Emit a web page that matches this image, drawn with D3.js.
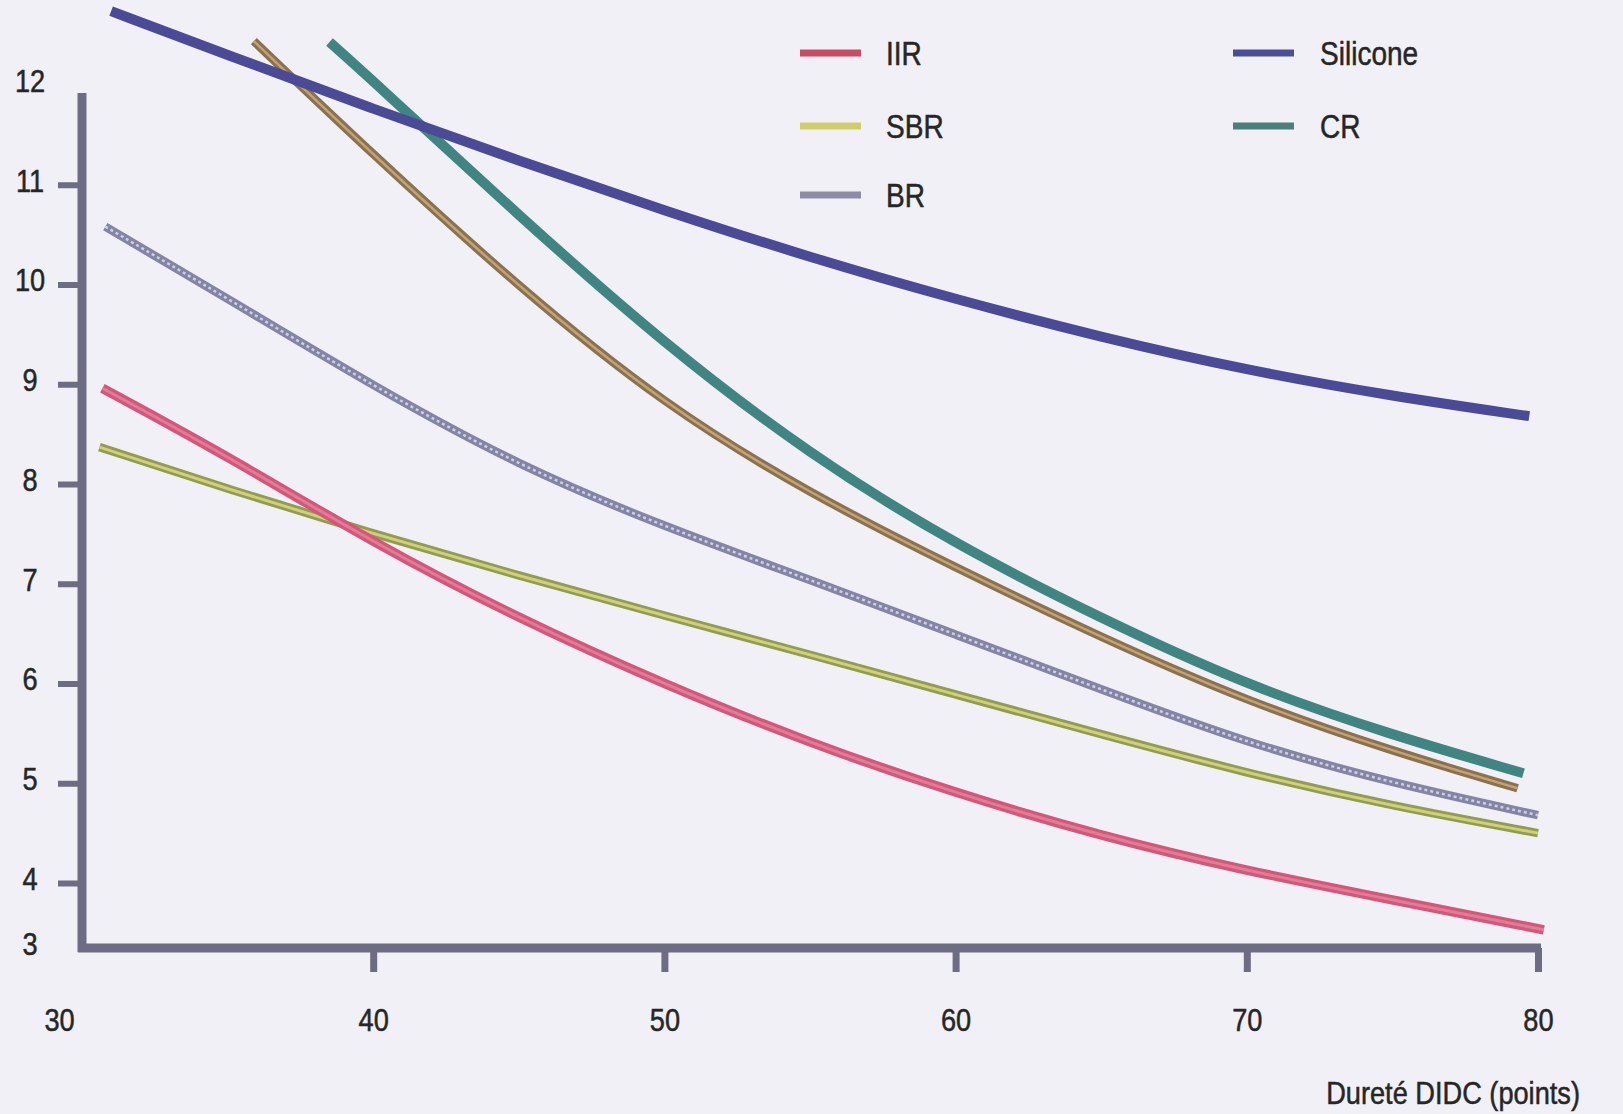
<!DOCTYPE html>
<html>
<head>
<meta charset="utf-8">
<script src="https://cdn.jsdelivr.net/npm/d3@7"></script>
<style>
  body { margin: 0; background: #f0f0f6; }
  svg { display: block; }
  text { font-family: "Liberation Sans", Arial, sans-serif; fill: #262626; stroke: #262626; stroke-width: 0.5px; }
</style>
</head>
<body>
<div id="chart"></div>
<script>
// hardness (DIDC points) vs value
const xTicks = [30, 40, 50, 60, 70, 80];
const yTicks = [3, 4, 5, 6, 7, 8, 9, 10, 11, 12];

const iirX = [30.7, 35, 40, 45, 50, 55, 60, 65, 70, 75, 80.2];
const iirY = [8.96, 8.28, 7.41, 6.65, 5.99, 5.40, 4.90, 4.47, 4.12, 3.74, 3.28];

const sbrX = [30.6, 35, 40, 45, 50, 55, 60, 65, 70, 75, 80];
const sbrY = [8.37, 7.95, 7.50, 7.08, 6.68, 6.29, 5.89, 5.49, 5.10, 4.77, 4.50];

const brX = [30.8, 35, 40, 45, 50, 55, 60, 65, 70, 75, 80];
const brY = [10.58, 9.86, 8.98, 8.18, 7.57, 7.04, 6.49, 5.94, 5.40, 5.00, 4.68];

const siliconeX = [31, 35, 40, 45, 50, 55, 60, 65, 70, 75, 79.7];
const siliconeY = [12.74, 12.30, 11.76, 11.24, 10.74, 10.27, 9.85, 9.47, 9.14, 8.88, 8.68];

const crX = [38.5, 40, 45, 50, 55, 60, 65, 70, 75, 79.5];
const crY = [12.43, 12.04, 10.69, 9.40, 8.29, 7.39, 6.65, 5.98, 5.48, 5.10];

// brown curve has no legend entry in the original
const brownX = [35.9, 40, 45, 50, 55, 60, 65, 70, 75, 79.3];
const brownY = [12.44, 11.3, 9.97, 8.79, 7.90, 7.16, 6.46, 5.82, 5.32, 4.95];

const width = 1623, height = 1114;
const axisColor = '#6c6c82';
const squeeze = 0.85; // narrow look of the original lettering

const svg = d3.select('#chart').append('svg')
  .attr('width', width)
  .attr('height', height);

svg.append('rect').attr('width', width).attr('height', height).attr('fill', '#f0f0f6');

const x = d3.scaleLinear().domain([30, 80]).range([82, 1538]);
// broken axis: 3 sits on the x axis, 4..12 evenly spaced
const y = d3.scaleLinear().domain([3, 4, 12]).range([948, 883, 85]);

const zip = (xs, ys) => xs.map((v, i) => ({ x: v, y: ys[i] }));

const series = [
  { name: 'BR', data: zip(brX, brY), outer: '#8484a6', inner: '#cfcfe2', w: 8.5, wi: 2.5, dash: '3,3' },
  { name: 'SBR', data: zip(sbrX, sbrY), outer: '#939a52', inner: '#cdd17a', w: 8.5, wi: 3, dash: null },
  { name: 'IIR', data: zip(iirX, iirY), outer: '#d45679', inner: '#e07c96', w: 9.5, wi: 3, dash: null },
  { name: '', data: zip(brownX, brownY), outer: '#8a7150', inner: '#c2a374', w: 8.5, wi: 2.5, dash: null },
  { name: 'CR', data: zip(crX, crY), outer: '#418583', inner: null, w: 10, wi: 0, dash: null },
  { name: 'Silicone', data: zip(siliconeX, siliconeY), outer: '#4a4a96', inner: null, w: 10, wi: 0, dash: null },
];

const line = d3.line()
  .x(d => x(d.x))
  .y(d => y(d.y))
  .curve(d3.curveBasis);

// axes
const gy = svg.append('g')
  .attr('transform', `translate(${x(30)},0)`)
  .call(d3.axisLeft(y).tickValues(yTicks).tickSize(24).tickFormat(d3.format('d')));
gy.select('.domain').remove();
gy.selectAll('.tick line')
  .attr('stroke', axisColor)
  .attr('stroke-width', 6)
  .attr('opacity', d => (d === 3 || d === 12) ? 0 : 1);
gy.selectAll('.tick text')
  .attr('x', -52 / squeeze)
  .attr('dy', '0.2em')
  .attr('transform', `scale(${squeeze},1)`)
  .attr('text-anchor', 'middle')
  .attr('font-size', 32)
  .attr('fill', '#262626');

const gx = svg.append('g')
  .attr('transform', `translate(0,${y(3)})`)
  .call(d3.axisBottom(x).tickValues(xTicks).tickSize(24).tickFormat(d3.format('d')));
gx.select('.domain').remove();
gx.selectAll('.tick line')
  .attr('stroke', axisColor)
  .attr('stroke-width', 7)
  .attr('opacity', d => d === 30 ? 0 : 1);
gx.selectAll('.tick text')
  .attr('y', 60)
  .attr('font-size', 32)
  .attr('fill', '#262626')
  .attr('transform', `scale(${squeeze},1)`)
  .attr('x', d => (d === 30 ? -23 : 0) / squeeze);

svg.append('line')
  .attr('x1', x(30)).attr('x2', x(30))
  .attr('y1', 93).attr('y2', y(3) + 4)
  .attr('stroke', axisColor).attr('stroke-width', 9);
svg.append('line')
  .attr('x1', x(30) - 4).attr('x2', x(80) + 3)
  .attr('y1', y(3)).attr('y2', y(3))
  .attr('stroke', axisColor).attr('stroke-width', 9);

svg.append('text')
  .attr('transform', `translate(1580,1104) scale(${squeeze},1)`)
  .attr('text-anchor', 'end')
  .attr('font-size', 32)
  .text('Dureté DIDC (points)');

// curves
const lines = svg.append('g');
series.forEach(s => {
  lines.append('path')
    .datum(s.data)
    .attr('d', line)
    .attr('fill', 'none')
    .attr('stroke', s.outer)
    .attr('stroke-width', s.w);
  if (s.inner) {
    lines.append('path')
      .datum(s.data)
      .attr('d', line)
      .attr('fill', 'none')
      .attr('stroke', s.inner)
      .attr('stroke-width', s.wi)
      .attr('stroke-dasharray', s.dash);
  }
});

// legend
const legendItems = [
  { name: 'IIR', color: '#c84d64', col: 0, row: 0 },
  { name: 'SBR', color: '#cfcd6a', col: 0, row: 1 },
  { name: 'BR', color: '#8c8ca8', col: 0, row: 2 },
  { name: 'Silicone', color: '#4d4d94', col: 1, row: 0 },
  { name: 'CR', color: '#4a7f7c', col: 1, row: 1 },
];
const legendCols = [800, 1233];
const legendRows = [53, 126, 195];

const lg = svg.append('g').selectAll('g')
  .data(legendItems)
  .enter().append('g')
  .attr('transform', d => `translate(${legendCols[d.col]},${legendRows[d.row]})`);
lg.append('rect')
  .attr('x', 0).attr('y', -3.5)
  .attr('width', 61).attr('height', 7)
  .attr('fill', d => d.color);
lg.append('text')
  .attr('transform', d => `translate(${d.col === 0 ? 86 : 87},0) scale(${squeeze},1)`)
  .attr('dy', '0.36em')
  .attr('font-size', 33)
  .text(d => d.name);
</script>
</body>
</html>
